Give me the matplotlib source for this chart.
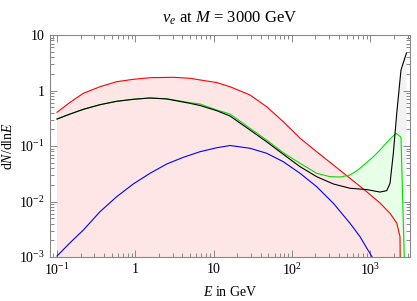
import matplotlib
matplotlib.use('Agg')
import matplotlib.pyplot as plt
from matplotlib.ticker import LogLocator, FixedLocator, FixedFormatter, NullFormatter
import numpy as np

plt.rcParams['font.family'] = ['Liberation Serif', 'DejaVu Serif']
plt.rcParams['mathtext.fontset'] = 'custom'
plt.rcParams['mathtext.rm'] = 'Liberation Serif'
plt.rcParams['mathtext.it'] = 'Liberation Serif:italic'

# spectra (E in GeV, dN/dlnE)
red_E = [0.1, 0.147, 0.217, 0.354, 0.578, 0.942, 1.54, 3.05, 5.00, 6.70, 11.0, 16.2, 29.2,
         47.6, 77.6, 127, 207, 338, 552, 902, 1333, 1790, 2180, 2400, 2520]
red_v = [0.405, 0.613, 0.891, 1.17, 1.44, 1.59, 1.70, 1.73, 1.66, 1.55, 1.39, 1.17, 0.830,
         0.511, 0.274, 0.138, 0.0789, 0.0455, 0.0262, 0.0150, 0.0094, 0.00613, 0.0041, 0.00232, 1e-6]

green_E = [0.1, 0.147, 0.217, 0.354, 0.578, 0.942, 1.54, 2.52, 5.00, 6.70, 11.0, 16.2, 29.2,
           47.6, 77.6, 127, 207, 307, 411, 552, 698, 902, 1086, 1333, 1790, 2140, 2470, 2720, 2760]
green_v = [0.306, 0.377, 0.458, 0.555, 0.639, 0.694, 0.733, 0.711, 0.603, 0.571, 0.445, 0.377, 0.208,
           0.128, 0.0757, 0.0488, 0.0322, 0.0280, 0.0276, 0.0300, 0.037, 0.0505, 0.0634, 0.0847, 0.134,
           0.169, 0.144, 0.001, 1e-6]

black_E = [0.1, 0.147, 0.217, 0.354, 0.578, 0.942, 1.54, 2.52, 5.00, 6.70, 11.0, 16.2, 29.2,
           47.6, 77.6, 127, 207, 338, 552, 902, 1333, 1625, 1790, 1972, 2180, 2470, 2900]
black_v = [0.306, 0.377, 0.458, 0.555, 0.639, 0.694, 0.733, 0.703, 0.587, 0.537, 0.432, 0.347, 0.194,
           0.119, 0.0708, 0.0424, 0.0280, 0.0207, 0.0173, 0.0164, 0.0148, 0.0157, 0.0213, 0.0739,
           0.388, 2.34, 4.74]

blue_E = [0.1, 0.147, 0.217, 0.354, 0.578, 0.942, 1.54, 2.52, 4.10, 6.70, 11.0, 16.2, 29.2,
          47.6, 77.6, 127, 207, 338, 552, 741, 902, 1077]
blue_v = [0.00104, 0.00181, 0.00306, 0.00655, 0.0122, 0.0207, 0.0322, 0.0474, 0.0625, 0.0789, 0.0931,
          0.102, 0.0910, 0.0739, 0.0521, 0.0322, 0.0185, 0.00929, 0.00405, 0.00232, 0.00145, 0.00096]

x_ticks = [0.1, 1, 10, 100, 1000]
x_labels = ['$10^{-1}$', '1', '10', '$10^{2}$', '$10^{3}$']
y_ticks = [1e-3, 1e-2, 1e-1, 1, 10]
y_labels = ['$10^{-3}$', '$10^{-2}$', '$10^{-1}$', '1', '10']

fig = plt.figure(figsize=(4.17, 3.01), dpi=100)
ax = fig.add_axes([50/417, 44/301, 360/417, 222/301])

base = 1e-6
ax.fill_between(black_E, base, black_v, color='#f2f2f2', lw=0)
ax.fill_between(green_E, base, green_v, color='#e6ffe6', lw=0)
ax.fill_between(red_E, base, red_v, color='#ffe6e6', lw=0)

lw = 0.8
ax.plot(blue_E, blue_v, color='#0000ff', lw=lw)
ax.plot(red_E, red_v, color='#ff0000', lw=lw)
ax.plot(green_E, green_v, color='#00e000', lw=lw)
ax.plot(black_E, black_v, color='black', lw=lw)

ax.set_xscale('log')
ax.set_yscale('log')
ax.set_xlim(0.0814, 3220)
ax.set_ylim(1e-3, 10)

ax.xaxis.set_major_locator(FixedLocator(x_ticks))
ax.xaxis.set_major_formatter(FixedFormatter(x_labels))
ax.yaxis.set_major_locator(FixedLocator(y_ticks))
ax.yaxis.set_major_formatter(FixedFormatter(y_labels))
ax.xaxis.set_minor_locator(LogLocator(base=10, subs=np.arange(2, 10)))
ax.yaxis.set_minor_locator(LogLocator(base=10, subs=np.arange(2, 10)))
ax.xaxis.set_minor_formatter(NullFormatter())
ax.yaxis.set_minor_formatter(NullFormatter())

for s in ax.spines.values():
    s.set_color('#888888')
    s.set_linewidth(0.8)
ax.tick_params(which='both', direction='in', top=True, right=True,
               color='#888888', width=0.7, labelsize=10, pad=4)
ax.tick_params(which='major', length=5)
ax.tick_params(which='minor', length=3)

ax.set_xlabel('$E$ in GeV', fontsize=10, labelpad=5)
ax.set_ylabel('d$N$/dln$E$', fontsize=10)
ax.yaxis.set_label_coords(-0.098, 0.5)
ax.set_title(r'$\nu_e$ at $M$ = 3000 GeV', fontsize=12, pad=9)

fig.savefig('out.png', dpi=100)
